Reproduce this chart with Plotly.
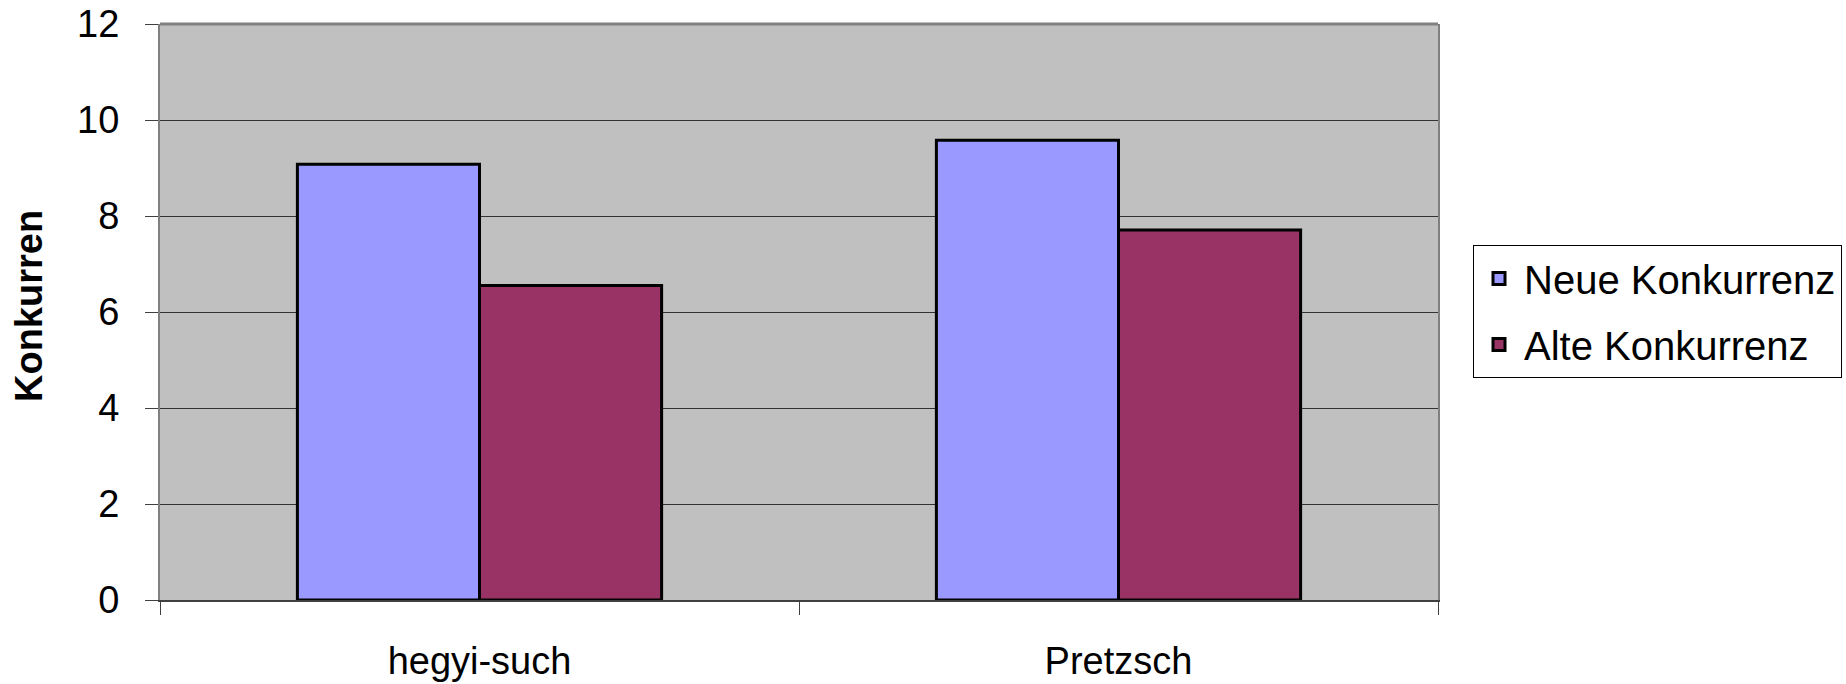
import plotly.graph_objects as go

categories = ["hegyi-such", "Pretzsch"]
neue_konkurrenz = [9.08, 9.58]
alte_konkurrenz = [6.55, 7.71]
series_names = ["Neue Konkurrenz", "Alte Konkurrenz"]
y_tick_values = [0, 2, 4, 6, 8, 10, 12]
y_title = "Konkurren"

FONT = "Liberation Sans, Arial, sans-serif"
W, H = 1846, 684
L, T = 160, 24
R = W - 1438
B = H - 600
PW, PH = 1438 - L, 600 - T

fig = go.Figure()
fig.add_trace(go.Bar(
    x=categories, y=neue_konkurrenz, name=series_names[0],
    marker=dict(color="#9999FF", line=dict(color="#000000", width=3)),
    legendgroup="a",
))
fig.add_trace(go.Bar(
    x=categories, y=alte_konkurrenz, name=series_names[1],
    marker=dict(color="#993366", line=dict(color="#000000", width=3)),
    legendgroup="b",
))

fig.update_layout(
    width=W, height=H,
    margin=dict(l=L, r=R, t=T, b=B, autoexpand=False),
    paper_bgcolor="white",
    plot_bgcolor="#C0C0C0",
    font=dict(family=FONT, size=38, color="#000000"),
    barmode="group",
    bargap=0.43,
    bargroupgap=0,
    showlegend=True,
    legend=dict(
        x=(1473 - L) / PW, xanchor="left",
        y=(600 - 245) / PH, yanchor="top",
        bgcolor="white", bordercolor="#000000", borderwidth=1,
        font=dict(family=FONT, size=40),
        itemwidth=40,
        traceorder="grouped", tracegroupgap=11,
    ),
    xaxis=dict(
        type="category",
        showline=True, linecolor="#404040", linewidth=2,
        ticks="outside", tickson="boundaries", ticklen=13, tickcolor="#404040", tickwidth=1,
        showgrid=False, zeroline=False,
        tickfont=dict(family=FONT, size=38),
        ticklabelstandoff=26,
    ),
    yaxis=dict(
        range=[0, 12], tickvals=y_tick_values,
        showline=True, linecolor="#808080", linewidth=2, mirror=True,
        ticks="outside", ticklen=13, tickcolor="#404040", tickwidth=1,
        showgrid=True, gridcolor="#333333", gridwidth=1,
        zeroline=False,
        tickfont=dict(family=FONT, size=38),
        ticklabelstandoff=18,
        ticklabeloverflow="allow",
    ),
    annotations=[dict(
        text="<b>" + y_title + "</b>", textangle=-90,
        xref="paper", yref="paper",
        x=(29 - L) / PW, y=(600 - 306) / PH,
        xanchor="center", yanchor="middle", showarrow=False,
        font=dict(family=FONT, size=38, color="#000000"),
    )],
    shapes=[dict(type="line", xref="paper", yref="paper", x0=0, x1=1, y0=1, y1=1,
                 line=dict(color="#808080", width=3))],
)

# remove the page's default 8px body margin so the figure fills the window exactly
fig.write_html(
    "out.html",
    config={"displayModeBar": False},
    post_script="document.body.style.margin='0';document.body.style.overflow='hidden';",
)
